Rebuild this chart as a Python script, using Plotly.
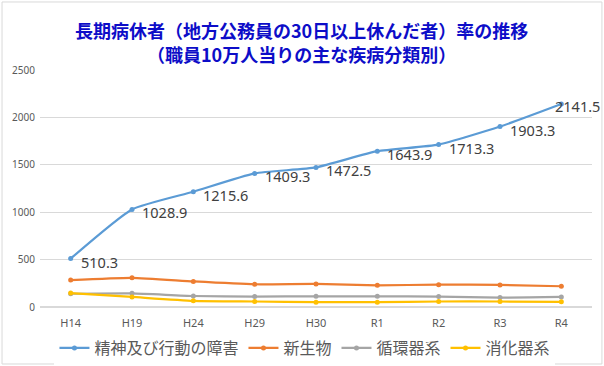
import plotly.graph_objects as go

categories = ["H14", "H19", "H24", "H29", "H30", "R1", "R2", "R3", "R4"]
mental = [510.3, 1028.9, 1215.6, 1409.3, 1472.5, 1643.9, 1713.3, 1903.3, 2141.5]
neoplasm = [284, 308, 270, 240, 243, 229, 236, 233, 219]
circulatory = [140, 144, 116, 110, 113, 113, 110, 99, 106]
digestive = [147, 106, 65, 58, 51, 51, 58, 58, 55]

series_names = ["精神及び行動の障害", "新生物", "循環器系", "消化器系"]
colors = ["#5b9bd5", "#ed7d31", "#a5a5a5", "#ffc000"]

fig = go.Figure()
for name, vals, col in zip(series_names, [mental, neoplasm, circulatory, digestive], colors):
    fig.add_trace(go.Scatter(
        x=categories, y=vals, name=name, mode="lines+markers",
        line=dict(color=col, width=2.2, shape="spline", smoothing=0.5),
        marker=dict(color=col, size=5),
    ))

# data labels for the main series
label_font = dict(family="Noto Sans, sans-serif", size=14.5, color="#404040")
for i, (c, v) in enumerate(zip(categories, mental)):
    last = i == len(categories) - 1
    fig.add_annotation(x=c, y=v, text=f"{v:.1f}", showarrow=False,
                       xanchor="center" if last else "left",
                       xshift=16 if last else 8, yshift=-2 if last else -3,
                       font=label_font)

fig.update_layout(
    width=604, height=366,
    margin=dict(l=40, r=12, t=70, b=59, autoexpand=False),
    paper_bgcolor="white", plot_bgcolor="white",
    showlegend=True,
    legend=dict(orientation="h", x=0.48, xanchor="center", y=-0.173, yanchor="middle",
                font=dict(family="Noto Sans CJK JP", size=16, color="#595959"),
                itemwidth=30, tracegroupgap=0),
    font=dict(family="Noto Sans CJK JP"),
)
fig.update_xaxes(range=[-0.5, 8.5], showgrid=False, showline=False, zeroline=False,
                 automargin=False,
                 tickfont=dict(family="Noto Sans, sans-serif", size=11, color="#595959"),
                 ticks="", ticklabelstandoff=8)
fig.update_yaxes(range=[0, 2500], dtick=500, showgrid=True, gridcolor="#d9d9d9", gridwidth=1,
                 automargin=False,
                 zeroline=True, zerolinecolor="#d9d9d9", showline=False,
                 tickfont=dict(family="Noto Sans, sans-serif", size=10, color="#595959"),
                 ticks="", ticklabelstandoff=4)

title_font = dict(family="Noto Sans CJK JP", size=18, color="#0d0dc8")
fig.add_annotation(text="<b>長期病休者（地方公務員の30日以上休んだ者）率の推移</b>",
                   xref="paper", yref="paper", x=0.474, y=1.169, showarrow=False,
                   font=title_font, xanchor="center", yanchor="middle")
fig.add_annotation(text="<b>（職員10万人当りの主な疾病分類別）</b>",
                   xref="paper", yref="paper", x=0.474, y=1.068, showarrow=False,
                   font=title_font, xanchor="center", yanchor="middle")
fig.add_shape(type="rect", xref="paper", yref="paper",
              x0=-0.0688, x1=1.018, y0=-0.2405, y1=1.287,
              line=dict(color="#d9d9d9", width=1), layer="below")

fig.write_html("out.html", config={"displayModeBar": False},
               post_script="document.body.style.margin='0';document.body.style.padding='0';")
